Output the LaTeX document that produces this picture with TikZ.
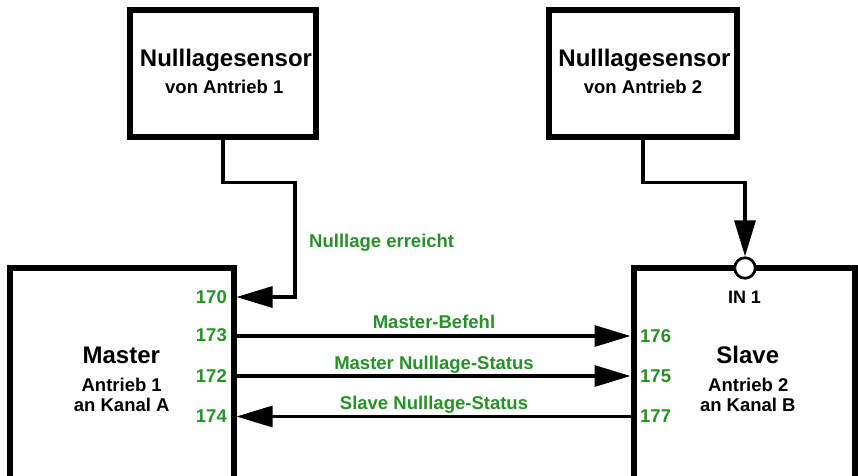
\documentclass[tikz,border=0pt]{standalone}
\usepackage{fontspec}
\setmainfont{Liberation Sans}
\usetikzlibrary{arrows.meta}
\definecolor{lblgreen}{RGB}{38,145,38}
\begin{document}
\begin{tikzpicture}[x=1pt,y=-1pt,
  box/.style={draw, line width=6pt, rectangle, inner sep=0pt},
  conn/.style={line width=3.2pt},
  tip/.style={-{Triangle[length=36pt,width=21pt]}},
  big/.style={font=\fontsize{24}{28}\selectfont\bfseries, anchor=base, inner sep=0pt},
  small/.style={font=\fontsize{18.5}{22}\selectfont\bfseries, anchor=base, inner sep=0pt},
  grn/.style={small, text=lblgreen}]
\useasboundingbox (0,0) rectangle (858,475);
\clip (0,0) rectangle (858,475);

% boxes
\node[box, minimum width=186pt, minimum height=127pt] (s1) at (223,73.5) {};
\node[box, minimum width=188pt, minimum height=127pt] (s2) at (643,73.5) {};
\node[box, minimum width=224pt, minimum height=252pt] (master) at (121.5,394) {};
\node[box, minimum width=221pt, minimum height=252pt] (slave) at (744,394) {};
\node[circle, draw, fill=white, line width=2.7pt, minimum size=20.5pt, inner sep=0pt] (in1) at (745,268) {};

% texts
\node[big] (s1t) at (226,66) {Nulllagesensor};
\node[small] (s1s) at (224.3,93.5) {von Antrieb 1};
\node[big] (s2t) at (644.5,66) {Nulllagesensor};
\node[small] (s2s) at (643,93.5) {von Antrieb 2};
\node[big] (mt) at (121.3,363.3) {Master};
\node[small] (ms1) at (121.7,391.7) {Antrieb 1};
\node[small] (ms2) at (121.7,411.7) {an Kanal A};
\node[big] (st) at (747.8,363.3) {Slave};
\node[small] (ss1) at (748.3,391.7) {Antrieb 2};
\node[small] (ss2) at (747.8,411.7) {an Kanal B};
\node[small, font=\fontsize{18}{22}\selectfont\bfseries] (in1t) at (744.5,303.3) {IN 1};

% helper coordinates
\coordinate (c1) at (295,182.8);
\coordinate (c2) at (745,182.8);
\coordinate (y170) at (0,297);
\coordinate (y173) at (0,336);
\coordinate (y172) at (0,376);
\coordinate (y174) at (0,416.5);

% connectors
\draw[conn,tip] (s1.south) |- (c1) |- (master.east |- y170);
\draw[conn,tip] (s2.south) |- (c2) -- (in1.north);
\draw[conn,tip] (master.east |- y173) -- (slave.west |- y173);
\draw[conn,tip] (master.east |- y172) -- (slave.west |- y172);
\draw[conn,tip] (slave.west |- y174) -- (master.east |- y174);

% green labels
\node[grn, anchor=base west] (lnull) at (309,247.6) {Nulllage erreicht};
\node[grn] (lmb) at (434,328.6) {Master-Befehl};
\node[grn] (lmn) at (434,369.6) {Master Nulllage-Status};
\node[grn] (lsn) at (434,409.6) {Slave Nulllage-Status};
\node[grn, anchor=base east] (p170) at (227,303.3) {170};
\node[grn, anchor=base east] (p173) at (227,341.6) {173};
\node[grn, anchor=base east] (p172) at (227,382.6) {172};
\node[grn, anchor=base east] (p174) at (227,422.6) {174};
\node[grn, anchor=base west] (p176) at (640,342.6) {176};
\node[grn, anchor=base west] (p175) at (640,382.6) {175};
\node[grn, anchor=base west] (p177) at (640,422.6) {177};
\end{tikzpicture}
\end{document}
